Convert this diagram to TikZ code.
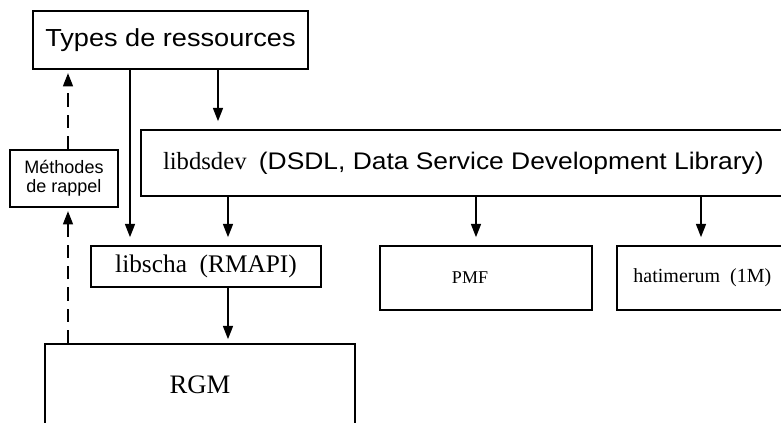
\documentclass[tikz,border=0pt]{standalone}
\usepackage{fontspec}
\setmainfont{Liberation Serif}
\newfontfamily\sansw{Liberation Sans}[FakeStretch=1.1]
\newfontfamily\sansn{Liberation Sans}
\usetikzlibrary{arrows.meta}
\begin{document}
\begin{tikzpicture}[x=0.75pt,y=-0.75pt,
  bx/.style={draw, line width=1.2pt, inner sep=0pt, align=center},
  arr/.style={line width=1.2pt, -{Triangle[length=10pt,width=7.5pt]}, shorten >=6pt},
  darr/.style={arr, dash pattern=on 10pt off 6pt}]
\useasboundingbox (0,0) rectangle (781,422);
\clip (0,0) rectangle (781,422);
\node[bx, minimum width=275*0.75pt, minimum height=58*0.75pt, font=\sansw\fontsize{18.5}{20}\selectfont] (types) at (170.5,40) {Types de ressources};
\node[bx, minimum width=654*0.75pt, minimum height=66*0.75pt] (dsdev) at (468,163) {\fontsize{18.5}{20}\selectfont libdsdev\ \ {\sansw\fontsize{18}{20}\selectfont (DSDL, Data Service Development Library)}\hspace*{7pt}};
\node[bx, minimum width=230*0.75pt, minimum height=41*0.75pt, font=\fontsize{19}{21}\selectfont] (scha) at (206,266.5) {libscha\ \ (RMAPI)};
\node[bx, minimum width=212*0.75pt, minimum height=64*0.75pt, font=\fontsize{13.5}{15}\selectfont] (pmf) at (486,278) {PMF\hspace*{24pt}};
\node[bx, minimum width=180*0.75pt, minimum height=64*0.75pt, font=\fontsize{15}{17}\selectfont] (hat) at (707,278) {hatimerum\ \ (1M)\hspace*{7pt}};
\node[bx, minimum width=310*0.75pt, minimum height=86*0.75pt, font=\fontsize{20}{22}\selectfont] (rgm) at (200,387) {\raisebox{3pt}{RGM}};
\node[bx, minimum width=108*0.75pt, minimum height=57*0.75pt, font=\sansn\fontsize{13.5}{14.5}\selectfont] (meth) at (64,178.5) {Méthodes\\de rappel};
\coordinate (x68) at (68,0);
\coordinate (x130) at (130,0);
\coordinate (x218) at (218,0);
\coordinate (x228) at (228,0);
\coordinate (x476) at (476,0);
\coordinate (x701) at (701,0);
\draw[arr] (types.south -| x130) -- (scha.north -| x130);
\draw[arr] (types.south -| x218) -- (dsdev.north -| x218);
\draw[arr] (dsdev.south -| x228) -- (scha.north -| x228);
\draw[arr] (dsdev.south -| x476) -- (pmf.north -| x476);
\draw[arr] (dsdev.south -| x701) -- (hat.north -| x701);
\draw[arr, shorten >=3pt] (scha.south -| x228) -- (rgm.north -| x228);
\draw[darr, shorten >=2.5pt] (rgm.north -| x68) -- (meth.south -| x68);
\draw[darr, shorten >=2.5pt] (meth.north -| x68) -- (types.south -| x68);
\end{tikzpicture}
\end{document}
